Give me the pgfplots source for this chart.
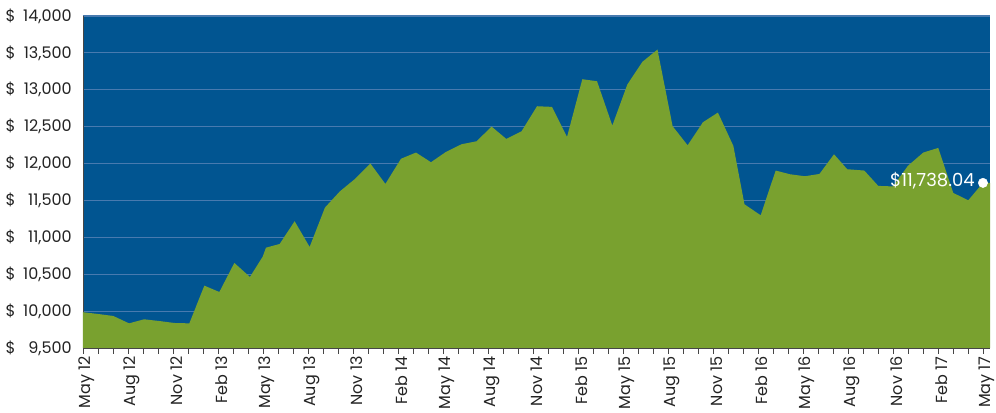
\documentclass[border=0pt]{standalone}
\usepackage{pgfplots}
\pgfplotsset{compat=1.18}
\usepackage{pgfplotstable}
\usepackage{fontspec}
\setmainfont{Poppins}
\definecolor{bgblue}{RGB}{1,85,145}
\definecolor{areagreen}{RGB}{121,161,47}
\definecolor{gridblue}{RGB}{72,122,175}
\definecolor{axisgray}{RGB}{70,70,70}
\definecolor{labelgray}{RGB}{35,35,35}
\pgfplotstableread{
x y
0 9985
1 9961
2.02 9934
3.07 9834
4.07 9889
5.07 9866
6.09 9839
7.09 9834
8.09 10345
9.09 10259
10.09 10653
11.13 10463
11.98 10738
12.2 10860
13.11 10910
14.11 11218
15.11 10870
16.13 11403
17.13 11624
18.16 11796
19.16 12000
20.16 11724
21.2 12065
22.2 12149
23.2 12018
24.2 12158
25.24 12262
26.24 12302
27.24 12501
28.22 12334
29.24 12438
30.27 12777
31.27 12768
32.27 12361
33.29 13143
34.27 13116
35.29 12515
36.29 13071
37.29 13378
38.3 13545
39.31 12506
40.31 12248
41.33 12560
42.33 12691
43.36 12239
44.1 11448
45.18 11299
46.18 11905
47.13 11855
48.13 11828
49.1 11859
50.07 12126
50.95 11923
52.09 11905
53.02 11697
54 11690
55 11970
56.02 12149
57.02 12212
58.02 11602
59.02 11502
60 11738
60.47 11738
}\growth
\begin{document}
\begin{tikzpicture}
\begin{axis}[
  scale only axis,
  width=680.25pt, height=249pt,
  xmin=0, xmax=60.47,
  ymin=9500, ymax=14000,
  scaled y ticks=false,
  axis background/.style={fill=bgblue},
  axis x line=bottom, axis y line=left,
  axis line style={-, draw=axisgray, line width=0.6pt},
  ytick={9500,10000,...,14000},
  ymajorgrids,
  major grid style={draw=gridblue, line width=0.9pt},
  ytick style={draw=none},
  xtick={0,3,...,60},
  minor xtick={0,1,...,60},
  xticklabels={May 12,Aug 12,Nov 12,Feb 13,May 13,Aug 13,Nov 13,Feb 14,May 14,Aug 14,Nov 14,Feb 15,May 15,Aug 15,Nov 15,Feb 16,May 16,Aug 16,Nov 16,Feb 17,May 17},
  tick align=outside,
  major tick length=4.5pt, minor tick length=4.5pt,
  xtick style={draw=axisgray, line width=0.6pt},
  minor x tick style={draw=axisgray, line width=0.6pt},
  x tick label style={rotate=90, anchor=east, inner sep=0pt, xshift=-1.5pt, yshift=-2.8pt, font=\fontsize{12}{14}\selectfont, text=labelgray},
  yticklabel={\makebox[49.5pt]{\$\hfill\pgfmathprintnumber[assume math mode=true,1000 sep={,}]{\tick}}},
  y tick label style={anchor=east, inner sep=0pt, xshift=-3.75pt, font=\fontsize{12}{14}\selectfont, text=labelgray},
  clip mode=individual,
]
\addplot[fill=areagreen, draw=none] table[x=x,y=y]{\growth} \closedcycle;
\addplot[only marks, mark=*, mark size=3.5pt, white, clip=false] coordinates {(60,11738)};
\node[anchor=east, text=white, inner sep=0pt, font=\fontsize{13.5}{15}\selectfont] at (axis cs:60,11738) [xshift=-6pt, yshift=2pt] {\$11,738.04};
\end{axis}
\path ([xshift=-62.25pt,yshift=-48.75pt]current axis.south west) rectangle ([xshift=4.5pt,yshift=12pt]current axis.north east);
\end{tikzpicture}
\end{document}
